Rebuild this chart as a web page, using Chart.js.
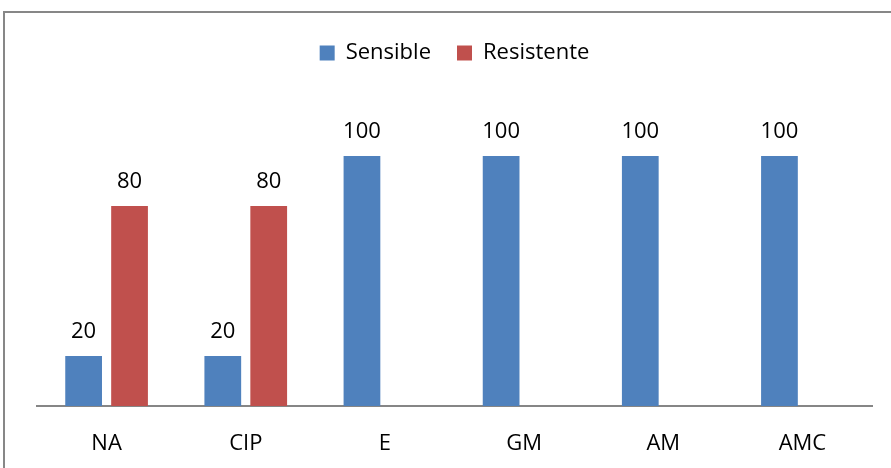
<!DOCTYPE html>
<html lang="es">
  <head>
    <meta charset="utf-8" />
    <title>Sensible / Resistente</title>
    <script src="https://cdn.jsdelivr.net/npm/chart.js@4.4.0/dist/chart.umd.min.js"></script>
    <style>
      html, body { margin: 0; padding: 0; background: #fff; overflow: hidden; }
      #frame {
        position: absolute; left: 3px; top: 11px;
        width: 910px; height: 480px;
        border: 2px solid #878787;
      }
      #wrap { position: absolute; left: 0; top: 0; width: 891px; height: 468px; }
    </style>
  </head>
  <body>
    <div id="frame"></div>
    <div id="wrap"><canvas id="myChart"></canvas></div>
    <script>
      const categories = ["NA", "CIP", "E", "GM", "AM", "AMC"];
      const sensible = [20, 20, 100, 100, 100, 100];
      const resistente = [80, 80, null, null, null, null];

      const FONT = "'Open Sans', 'DejaVu Sans', sans-serif";

      // value labels above each bar
      const barLabels = {
        id: "barLabels",
        afterDatasetsDraw(chart) {
          const ctx = chart.ctx;
          ctx.save();
          ctx.font = "22px " + FONT;
          ctx.fillStyle = "#000";
          ctx.textAlign = "center";
          ctx.textBaseline = "middle";
          chart.data.datasets.forEach((ds, i) => {
            chart.getDatasetMeta(i).data.forEach((bar, j) => {
              const v = ds.data[j];
              if (v === null || v === undefined) return;
              ctx.fillText(String(v), bar.x, bar.y - 24);
            });
          });
          ctx.restore();
        },
      };

      // extra room under the legend
      const legendSpace = {
        id: "legendSpace",
        beforeInit(chart) {
          const fit = chart.legend.fit;
          chart.legend.fit = function () {
            fit.bind(chart.legend)();
            this.height += 32;
          };
        },
      };

      const ctx = document.getElementById("myChart").getContext("2d");
      const myChart = new Chart(ctx, {
        type: "bar",
        data: {
          labels: categories,
          datasets: [
            {
              label: "Sensible",
              data: sensible,
              backgroundColor: "#4f81bd",
              categoryPercentage: 0.66,
              barPercentage: 0.8,
            },
            {
              label: "Resistente",
              data: resistente,
              backgroundColor: "#c0504d",
              categoryPercentage: 0.66,
              barPercentage: 0.8,
            },
          ],
        },
        options: {
          responsive: true,
          maintainAspectRatio: false,
          animation: false,
          layout: { padding: { top: 16, left: 37, right: 19, bottom: 12 } },
          plugins: {
            legend: {
              position: "top",
              labels: {
                boxWidth: 15,
                boxHeight: 15,
                padding: 26,
                color: "#000",
                font: { family: FONT, size: 22 },
              },
            },
            tooltip: { enabled: false },
          },
          scales: {
            x: {
              grid: { display: false },
              border: { display: true, color: "#868686", width: 2 },
              ticks: { color: "#000", padding: 17, font: { family: FONT, size: 22 } },
              afterFit(scale) {
                scale.height = 50;
              },
            },
            y: {
              display: false,
              min: 0,
              max: 120,
            },
          },
        },
        plugins: [barLabels, legendSpace],
      });
    </script>
  </body>
</html>
